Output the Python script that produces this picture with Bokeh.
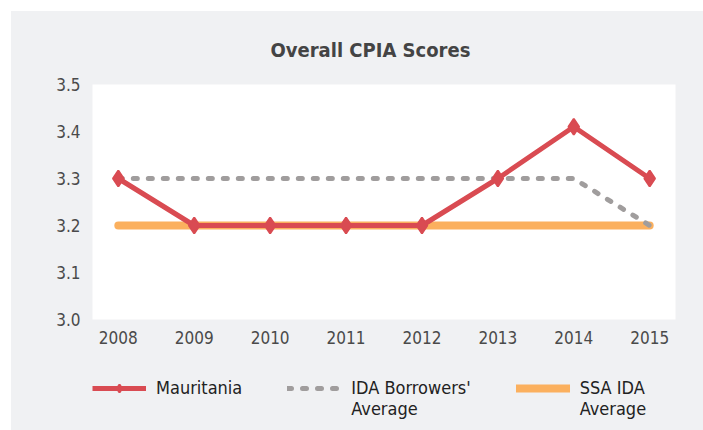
from bokeh.plotting import figure
from bokeh.models import Range1d, FixedTicker, PrintfTickFormatter, Legend, LegendItem, Spacer
from bokeh.layouts import column, row
from bokeh.embed import file_html
from bokeh.resources import INLINE

years = [2008, 2009, 2010, 2011, 2012, 2013, 2014, 2015]
mauritania = [3.3, 3.2, 3.2, 3.2, 3.2, 3.3, 3.41, 3.3]
ida_avg = [3.3, 3.3, 3.3, 3.3, 3.3, 3.3, 3.3, 3.2]
ssa_ida_avg = [3.2, 3.2, 3.2, 3.2, 3.2, 3.2, 3.2, 3.2]
y_ticks = [3.0, 3.1, 3.2, 3.3, 3.4, 3.5]
# leading blank line keeps each legend glyph level with the first text line
labels = ["Mauritania", " \nIDA Borrowers'\nAverage", " \nSSA IDA\nAverage"]

BG = "#F0F1F3"
FONT = "DejaVu Sans Condensed"
TXT = "#4a4a4a"
RED = "#D94B52"
GRAY = "#A09D9D"
ORANGE = "#FBB05E"


def draw_series(fig):
    r_ssa = fig.line(years, ssa_ida_avg, line_color=ORANGE, line_width=8, line_cap="round")
    r_ida = fig.line(years, ida_avg, line_color=GRAY, line_width=5, line_cap="round", line_dash="4 11")
    r_mau = fig.line(years, mauritania, line_color=RED, line_width=5)
    r_mau_m = fig.scatter(years, mauritania, marker="diamond", size=16, line_width=2,
                          fill_color=RED, line_color=RED)
    return r_ssa, r_ida, r_mau, r_mau_m


p = figure(width=692, height=345, output_backend="svg", toolbar_location=None,
           x_range=Range1d(2007.66, 2015.34), y_range=Range1d(3.0, 3.5),
           min_border_left=81, min_border_right=28, min_border_top=73, min_border_bottom=37)
p.border_fill_color = BG
p.background_fill_color = "white"
p.outline_line_color = None
p.grid.visible = False

p.title.text = "Overall CPIA Scores"
p.title.align = "left"
p.title.offset = 178
p.title.text_font = FONT
p.title.text_font_size = "20px"
p.title.text_font_style = "bold"
p.title.text_color = "#444444"
p.title.text_line_height = 1.0
p.title.standoff = 46

for ax in (p.xaxis[0], p.yaxis[0]):
    ax.axis_line_color = None
    ax.major_tick_line_color = None
    ax.minor_tick_line_color = None
    ax.major_label_text_font = FONT
    ax.major_label_text_font_size = "17px"
    ax.major_label_text_color = TXT
p.xaxis.major_label_standoff = 5
p.yaxis.major_label_standoff = 6

p.xaxis.ticker = FixedTicker(ticks=years)
p.yaxis.ticker = FixedTicker(ticks=y_ticks)
p.yaxis.formatter = PrintfTickFormatter(format="%.1f")

draw_series(p)

# legend strip: same series drawn out of view, only the legend is visible
lg = figure(width=692, height=74, output_backend="svg", toolbar_location=None,
            x_range=Range1d(0, 1), y_range=Range1d(0, 1),
            x_axis_location=None, y_axis_location=None,
            min_border=0)
lg.border_fill_color = BG
lg.background_fill_color = BG
lg.outline_line_color = None
lg.grid.visible = False
l_ssa, l_ida, l_mau, l_mau_m = draw_series(lg)

legend = Legend(items=[
    LegendItem(label=labels[0], renderers=[l_mau, l_mau_m]),
    LegendItem(label=labels[1], renderers=[l_ida]),
    LegendItem(label=labels[2], renderers=[l_ssa]),
], orientation="horizontal", location=(0, 11))
legend.margin = 0
legend.padding = 0
legend.spacing = 45
legend.glyph_width = 54
legend.glyph_height = 20
legend.label_standoff = 10
legend.label_text_font = FONT
legend.label_text_font_size = "18px"
legend.label_text_line_height = 1.7
legend.label_text_color = "#222222"
legend.border_line_color = None
legend.background_fill_alpha = 0
lg.add_layout(legend, "center")

inner = column(p, lg, spacing=0)
inner.styles = {"background-color": BG}
layout = column(Spacer(height=11), row(Spacer(width=11), inner, spacing=0), spacing=0)
layout.styles = {"background-color": "white"}

open("out.html", "w").write(file_html(layout, INLINE))
